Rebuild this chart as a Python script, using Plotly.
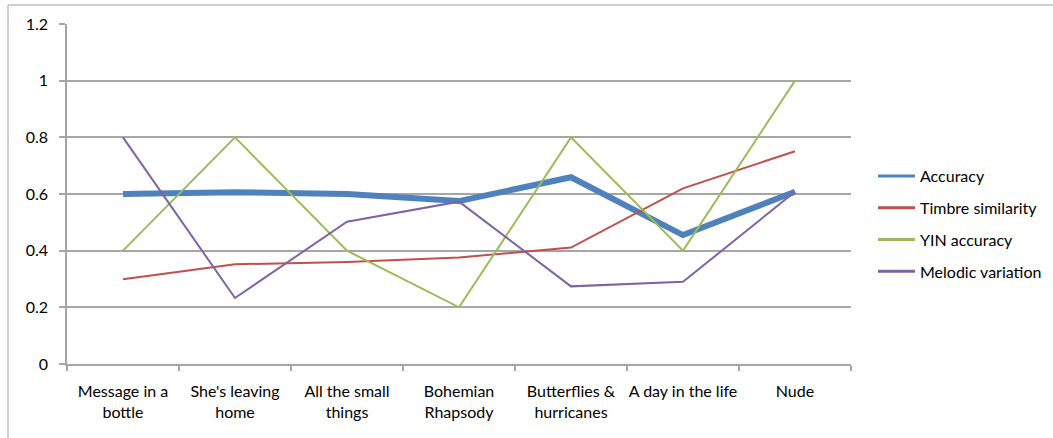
import plotly.graph_objects as go

songs = ["Message in a<br>bottle", "She's leaving<br>home", "All the small<br>things",
         "Bohemian<br>Rhapsody", "Butterflies &<br>hurricanes", "A day in the life", "Nude"]

accuracy = [0.600, 0.606, 0.600, 0.575, 0.659, 0.455, 0.608]
timbre_similarity = [0.299, 0.352, 0.360, 0.376, 0.411, 0.620, 0.751]
yin_accuracy = [0.4, 0.8, 0.4, 0.2, 0.8, 0.4, 1.0]
melodic_variation = [0.800, 0.233, 0.502, 0.573, 0.274, 0.290, 0.608]

y_ticks = [0, 0.2, 0.4, 0.6, 0.8, 1.0, 1.2]
y_tick_labels = ["0", "0.2", "0.4", "0.6", "0.8", "1", "1.2"]

W, H = 1053, 438
L, R, T, B = 67, 202, 24, 74
pw, ph = W - L - R, H - T - B

series = [
    ("Accuracy", accuracy, "#4F81BD", 6),
    ("Timbre similarity", timbre_similarity, "#C0504D", 2),
    ("YIN accuracy", yin_accuracy, "#9BBB59", 2),
    ("Melodic variation", melodic_variation, "#8064A2", 2),
]

fig = go.Figure()
for name, vals, color, width in series:
    fig.add_trace(go.Scatter(
        x=songs, y=vals, name=name, mode="lines",
        line=dict(color=color, width=width),
        legendgroup=name, showlegend=False,
    ))
# legend keys drawn with a uniform thin stroke
for name, vals, color, width in series:
    fig.add_trace(go.Scatter(
        x=[songs[0]], y=[None], name=name, mode="lines",
        line=dict(color=color, width=3),
        legendgroup=name, showlegend=True, hoverinfo="skip",
    ))

font = dict(family="Lato, Open Sans, sans-serif", size=16, color="#000000")


def px_to_paper_x(px):
    return (px - L) / pw


def px_to_paper_y(py):
    return (H - B - py) / ph


# outer chart frame (top and left edges visible)
frame_color = "#CFCFCF"
shapes = [
    dict(type="line", xref="paper", yref="paper",
         x0=px_to_paper_x(8), x1=px_to_paper_x(1060),
         y0=px_to_paper_y(5), y1=px_to_paper_y(5),
         line=dict(color=frame_color, width=2)),
    dict(type="line", xref="paper", yref="paper",
         x0=px_to_paper_x(8), x1=px_to_paper_x(8),
         y0=px_to_paper_y(5), y1=px_to_paper_y(445),
         line=dict(color=frame_color, width=2)),
]

fig.update_layout(
    width=W, height=H,
    margin=dict(l=L, r=R, t=T, b=B, autoexpand=False),
    paper_bgcolor="white", plot_bgcolor="white",
    font=font,
    showlegend=True,
    legend=dict(
        x=px_to_paper_x(873), y=px_to_paper_y(159),
        xanchor="left", yanchor="top",
        font=dict(family="Lato, Open Sans, sans-serif", size=16, color="#000000"),
        tracegroupgap=8, itemwidth=37,
        bgcolor="rgba(0,0,0,0)",
    ),
    shapes=shapes,
    xaxis=dict(
        type="category", tickson="boundaries", tickangle=0, automargin=False,
        showline=True, linecolor="#A6A6A6", linewidth=1.5,
        ticks="outside", ticklen=5, tickcolor="#A6A6A6", tickwidth=1.5,
        showgrid=False, zeroline=False,
        tickfont=font, range=[-0.5, 6.5], ticklabelstandoff=12,
    ),
    yaxis=dict(
        range=[0, 1.2], tickvals=y_ticks, ticktext=y_tick_labels, automargin=False,
        showline=True, linecolor="#A6A6A6", linewidth=1.5,
        ticks="outside", ticklen=6, tickcolor="#A6A6A6", tickwidth=1.5,
        showgrid=True, gridcolor="#A6A6A6", gridwidth=1.5,
        zeroline=False, tickfont=font, ticklabelstandoff=8,
    ),
)

fig.write_html("out.html")
